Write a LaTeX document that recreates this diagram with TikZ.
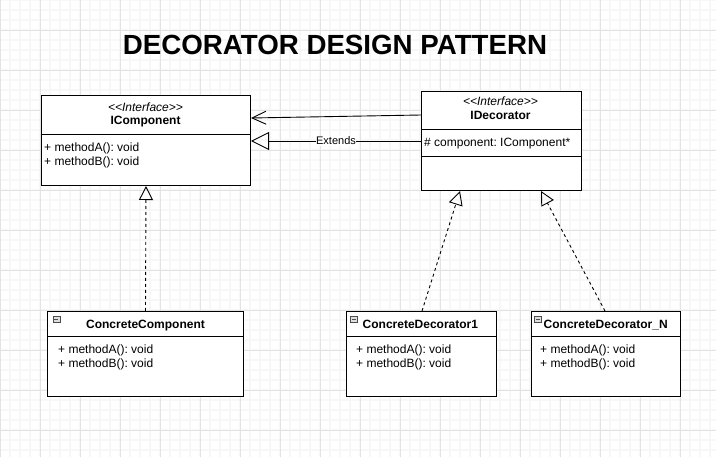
\documentclass[tikz,border=0pt]{standalone}
\usepackage{fontspec}
\setmainfont{Liberation Sans}
\frenchspacing
\usetikzlibrary{arrows.meta,positioning}

\begin{document}
\begin{tikzpicture}[x=1pt, y=-1pt,
    minor/.style={gray!6, line width=1.2pt},
    major/.style={gray!22, line width=0.8pt},
    cls/.style={draw, fill=white, line width=1pt, anchor=north west, inner sep=0pt},
    txt/.style={inner sep=0pt, font=\fontsize{12}{14}\selectfont},
    icon/.style={draw=gray!60!black, fill=gray!25, minimum width=7pt, minimum height=6pt, inner sep=0pt,
        path picture={\draw[line width=0.6pt] ([xshift=1.5pt]path picture bounding box.west) -- ([xshift=-1.5pt]path picture bounding box.east);}},
    assoc/.style={line width=0.9pt, -{Straight Barb[length=14pt, width=13pt]}},
    extends/.style={line width=0.9pt, -{Triangle[open, length=18pt, width=18pt]}},
    realize/.style={line width=0.9pt, dash pattern=on 3pt off 3pt, -{Triangle[open, length=14pt, width=14pt]}}]
    \useasboundingbox (0,0) rectangle (716,457);
    % grid
    \fill[white] (0,0) rectangle (716,457);
    \foreach \i in {0,10,...,710} \draw[minor] (\i,0) -- (\i,457);
    \foreach \j in {0,10,...,450} \draw[minor] (0,\j) -- (716,\j);
    \foreach \i in {0,40,...,680} \draw[major] (\i,0) -- (\i,457);
    \foreach \j in {30,70,...,430} \draw[major] (0,\j) -- (716,\j);

    \node[font=\bfseries\fontsize{27.7}{30}\selectfont] (title) at (335,45) {DECORATOR DESIGN PATTERN};

    % interfaces
    \node[cls, minimum width=209pt, minimum height=90pt] (icomp) at (41,95) {};
    \draw ([yshift=-39.3pt]icomp.north west) -- ([yshift=-39.3pt]icomp.north east);
    \node[txt, anchor=base] (icst) at (145.5,111.5) {\itshape <\kern0pt<Interface>\kern0pt>};
    \node[txt, anchor=base] (icname) at (145.5,124.3) {\bfseries IComponent};
    \node[txt, anchor=base west] (ica) at (44,151.5) {+ methodA(): void};
    \node[txt, anchor=base west] (icb) at (44,165.5) {+ methodB(): void};

    \node[cls, minimum width=159.5pt, minimum height=99pt] (deco) at (421,91) {};
    \draw ([yshift=-38.3pt]deco.north west) -- ([yshift=-38.3pt]deco.north east);
    \draw ([yshift=-65.3pt]deco.north west) -- ([yshift=-65.3pt]deco.north east);
    \node[txt, anchor=base] (dst) at (500.5,106) {\itshape <\kern0pt<Interface>\kern0pt>};
    \node[txt, anchor=base] (dname) at (500.5,119.3) {\bfseries IDecorator};
    \node[txt, anchor=base west] (dattr) at (424,146.5) {\# component: IComponent*};

    % concrete classes
    \node[cls, minimum width=196pt, minimum height=85pt] (cc) at (47,311) {};
    \node[cls, minimum width=150pt, minimum height=85pt] (cd1) at (346,311) {};
    \node[cls, minimum width=149pt, minimum height=85pt] (cdn) at (531,311) {};
    \foreach \n in {cc,cd1,cdn}
    \draw ([yshift=-25pt]\n.north west) -- ([yshift=-25pt]\n.north east);
    \foreach \n/\x in {cc/56.3, cd1/354, cdn/538}
    \node[icon] (\n i) at (\x,319.7) {};
    \node[txt, anchor=base] (ccname) at (145.5,328.3) {\bfseries ConcreteComponent};
    \node[txt, anchor=base west] (cd1name) at (362.5,328.3) {\bfseries ConcreteDecorator1};
    \node[txt, anchor=base west] (cdnname) at (543.5,328.3) {\bfseries ConcreteDecorator\_N};
    \foreach \n/\x in {cc/58, cd1/356, cdn/540} {
    \node[txt, anchor=base west] (\n a) at (\x,354) {+ methodA(): void};
    \node[txt, anchor=base west] (\n b) at (\x,367.7) {+ methodB(): void};
    }

    % connectors
    \draw[assoc] ([yshift=-24pt]deco.north west) -- ([yshift=-23pt]icomp.north east);
    \draw[extends] ([yshift=-50pt]deco.north west) -- node[fill=white, inner sep=0.5pt, font=\fontsize{11}{13}\selectfont] (extl) {Extends} ([yshift=-46pt]icomp.north east);
    \draw[realize] (cc.north) -- (icomp.south);
    \draw[realize] ([xshift=76pt]cd1.north west) -- ([xshift=39pt]deco.south west);
    \draw[realize] ([xshift=74pt]cdn.north west) -- ([xshift=120pt]deco.south west);
\end{tikzpicture}
\end{document}
